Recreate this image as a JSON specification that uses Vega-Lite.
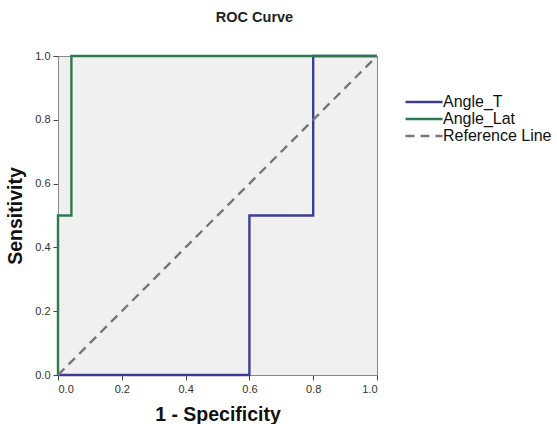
{
  "$schema": "https://vega.github.io/schema/vega-lite/v6.json",
  "autosize": {"type": "none"},
  "padding": {"left": 58, "top": 56, "right": 180, "bottom": 49},
  "width": 319,
  "height": 319,
  "background": "white",
  "title": {
    "text": "ROC Curve",
    "anchor": "middle",
    "dx": 37,
    "offset": 25,
    "fontSize": 14.5,
    "font": "Liberation Sans",
    "fontWeight": "bold",
    "color": "#222222"
  },
  "config": {
    "view": {"fill": "#F0F0F0", "stroke": "#888888", "strokeWidth": 1},
    "font": "Liberation Sans"
  },
  "data": {
    "values": [
      {"series": "Angle_T", "order": 1, "x": 0, "y": 0},
      {"series": "Angle_T", "order": 2, "x": 0.6, "y": 0},
      {"series": "Angle_T", "order": 3, "x": 0.6, "y": 0.5},
      {"series": "Angle_T", "order": 4, "x": 0.8, "y": 0.5},
      {"series": "Angle_T", "order": 5, "x": 0.8, "y": 1},
      {"series": "Angle_T", "order": 6, "x": 1, "y": 1},
      {"series": "Angle_Lat", "order": 1, "x": 0, "y": 0},
      {"series": "Angle_Lat", "order": 2, "x": 0, "y": 0.5},
      {"series": "Angle_Lat", "order": 3, "x": 0.042, "y": 0.5},
      {"series": "Angle_Lat", "order": 4, "x": 0.042, "y": 1},
      {"series": "Angle_Lat", "order": 5, "x": 1, "y": 1},
      {"series": "Reference Line", "order": 1, "x": 0, "y": 0},
      {"series": "Reference Line", "order": 2, "x": 1, "y": 1}
    ]
  },
  "mark": {"type": "line", "strokeWidth": 2.4, "clip": false},
  "encoding": {
    "x": {
      "field": "x", "type": "quantitative",
      "scale": {"domain": [0, 1], "nice": false, "zero": false},
      "axis": {
        "values": [0, 0.2, 0.4, 0.6, 0.8, 1],
        "format": ".1f",
        "grid": false,
        "domainColor": "#888888",
        "tickColor": "#444444",
        "tickSize": 5,
        "labelFontSize": 11,
        "labelColor": "#333333",
        "labelPadding": 3,
        "title": "1 - Specificity",
        "titleFontSize": 19.5,
        "titleFontWeight": "bold",
        "titleColor": "#111111",
        "titlePadding": 11
      }
    },
    "y": {
      "field": "y", "type": "quantitative",
      "scale": {"domain": [0, 1], "nice": false, "zero": false},
      "axis": {
        "values": [0, 0.2, 0.4, 0.6, 0.8, 1],
        "format": ".1f",
        "grid": false,
        "domainColor": "#888888",
        "tickColor": "#444444",
        "tickSize": 5,
        "labelFontSize": 11,
        "labelColor": "#333333",
        "labelPadding": 3,
        "title": "Sensitivity",
        "titleFontSize": 19.5,
        "titleFontWeight": "bold",
        "titleColor": "#111111",
        "titlePadding": 9
      }
    },
    "order": {"field": "order", "type": "quantitative"},
    "color": {
      "field": "series", "type": "nominal",
      "scale": {
        "domain": ["Angle_T", "Angle_Lat", "Reference Line"],
        "range": ["#3C3C96", "#2D7A4E", "#777777"]
      },
      "legend": {
        "title": null,
        "orient": "none",
        "legendX": 358,
        "legendY": 38,
        "symbolType": "M-3,0H3",
        "symbolSize": 152,
        "symbolStrokeWidth": 2.4,
        "labelFontSize": 16,
        "labelColor": "#111111",
        "labelOffset": 11,
        "rowPadding": 1
      }
    },
    "strokeDash": {
      "field": "series", "type": "nominal",
      "scale": {
        "domain": ["Angle_T", "Angle_Lat", "Reference Line"],
        "range": [[1, 0], [1, 0], [9, 6]]
      },
      "legend": null
    }
  }
}
